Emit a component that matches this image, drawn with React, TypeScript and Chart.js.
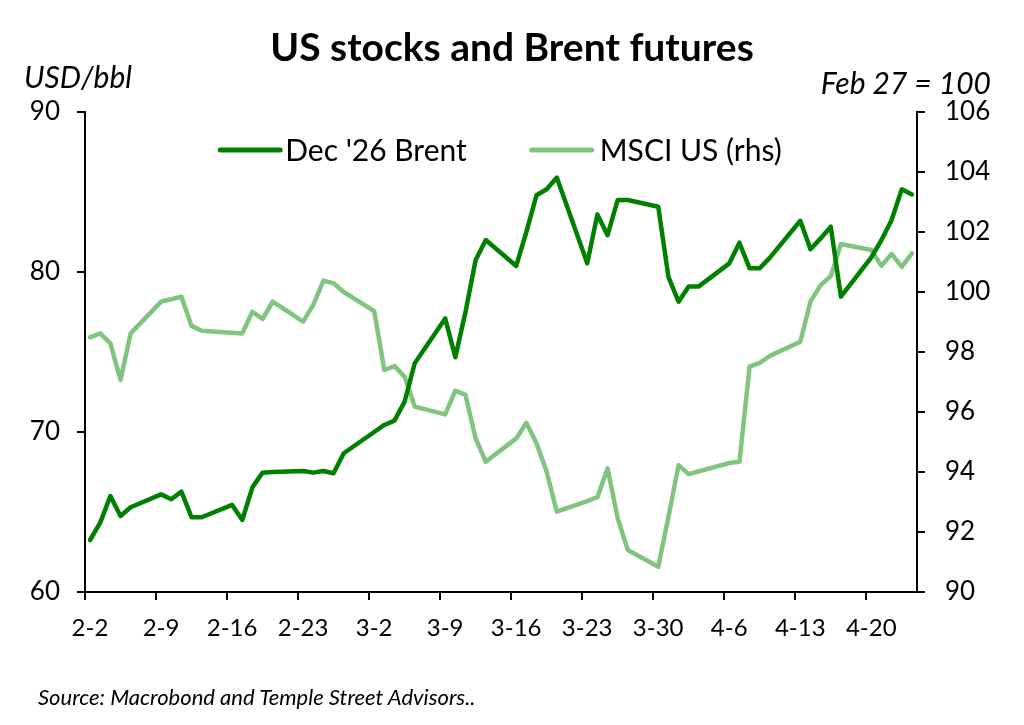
import React, { useEffect, useRef } from "react";
import { Chart, registerables } from "chart.js";

Chart.register(...registerables);

// Trading days (month-day), Feb 2 to Apr 24
const dates = [
  "2-2", "2-3", "2-4", "2-5", "2-6", "2-9", "2-10", "2-11", "2-12", "2-13",
  "2-16", "2-17", "2-18", "2-19", "2-20", "2-23", "2-24", "2-25", "2-26", "2-27",
  "3-2", "3-3", "3-4", "3-5", "3-6", "3-9", "3-10", "3-11", "3-12", "3-13",
  "3-16", "3-17", "3-18", "3-19", "3-20", "3-23", "3-24", "3-25", "3-26", "3-27",
  "3-30", "3-31", "4-1", "4-2", "4-3", "4-6", "4-7", "4-8", "4-9", "4-10",
  "4-13", "4-14", "4-15", "4-16", "4-17", "4-20", "4-21", "4-22", "4-23", "4-24",
];

// Dec '26 Brent, USD/bbl (left axis)
const brent = [
  63.25, 64.33, 66.0, 64.75, 65.3, 66.1, 65.8, 66.27, 64.67, 64.67,
  65.44, 64.5, 66.54, 67.46, 67.5, 67.56, 67.46, 67.56, 67.42, 68.67,
  70.0, 70.44, 70.71, 71.9, 74.3, 77.1, 74.67, 77.5, 80.75, 82.0,
  80.38, 82.5, 84.8, 85.17, 85.9, 80.54, 83.6, 82.3, 84.5, 84.5,
  84.08, 79.7, 78.14, 79.1, 79.1, 80.54, 81.83, 80.23, 80.23, 80.9,
  83.2, 81.42, 82.1, 82.83, 78.46, 80.92, 82.0, 83.25, 85.17, 84.85,
];

// MSCI US, Feb 27 = 100 (right axis)
const msci = [
  98.49, 98.62, 98.29, 97.07, 98.62, 99.68, 99.76, 99.84, 98.87, 98.71,
  null, 98.62, 99.34, 99.1, 99.68, 99.01, 99.57, 100.38, 100.29, 100.0,
  99.36, 97.4, 97.53, 97.18, 96.18, 95.92, 96.71, 96.57, 95.12, 94.34,
  95.12, 95.64, 94.96, 94.01, 92.68, 93.03, 93.16, 94.12, 92.46, 91.4,
  90.84, 92.5, 94.23, 93.93, null, 94.3, 94.34, 97.51, 97.64, 97.87,
  98.34, 99.68, 100.23, 100.53, 101.6, 101.4, 100.87, 101.27, 100.84, 101.29,
];

const tickLabels = ["2-2", "2-9", "2-16", "2-23", "3-2", "3-9", "3-16", "3-23", "3-30", "4-6", "4-13", "4-20"];
const lastDate = "4-24";

const seriesNames = ["Dec '26 Brent", "MSCI US (rhs)"];
const seriesColors = ["#008000", "#7fc47f"];

const FONT = "Lato, 'Open Sans', sans-serif";

function dayOf(md: string): number {
  const [m, d] = md.split("-").map(Number);
  if (m === 2) return d - 2;
  if (m === 3) return 26 + d;
  return 57 + d;
}

const insideLegend = {
  id: "insideLegend",
  afterDraw(chart: any) {
    const { ctx, chartArea } = chart;
    ctx.save();
    ctx.font = `30px ${FONT}`;
    ctx.textBaseline = "middle";
    const lineW = 60;
    const gapLT = [5, 8];
    const gapItems = 65;
    const widths = seriesNames.map((n) => ctx.measureText(n).width);
    const total = lineW + gapLT[0] + widths[0] + gapItems + lineW + gapLT[1] + widths[1];
    let x = (chartArea.left + chartArea.right) / 2 - total / 2;
    const y = 150;
    seriesNames.forEach((name, i) => {
      ctx.strokeStyle = seriesColors[i];
      ctx.lineWidth = 5;
      ctx.lineCap = "round";
      ctx.beginPath();
      ctx.moveTo(x, y);
      ctx.lineTo(x + lineW, y);
      ctx.stroke();
      x += lineW + gapLT[i];
      ctx.fillStyle = "#000";
      ctx.textAlign = "left";
      ctx.fillText(name, x, y + 1);
      x += widths[i] + gapItems;
    });
    ctx.restore();
  },
};

export default function App() {
  const canvasRef = useRef<HTMLCanvasElement | null>(null);

  useEffect(() => {
    if (!canvasRef.current) return;
    const xs = dates.map(dayOf);
    const chart = new Chart(canvasRef.current, {
      type: "line",
      data: {
        datasets: [
          {
            label: seriesNames[0],
            data: xs.map((x, i) => ({ x, y: brent[i] })),
            borderColor: seriesColors[0],
            backgroundColor: seriesColors[0],
            borderWidth: 4.5,
            pointRadius: 0,
            tension: 0,
            yAxisID: "y",
            borderJoinStyle: "round",
            borderCapStyle: "round",
            spanGaps: true,
            order: 1,
          },
          {
            label: seriesNames[1],
            data: xs.map((x, i) => ({ x, y: msci[i] })),
            borderColor: seriesColors[1],
            backgroundColor: seriesColors[1],
            borderWidth: 4.5,
            pointRadius: 0,
            tension: 0,
            yAxisID: "y1",
            borderJoinStyle: "round",
            borderCapStyle: "round",
            spanGaps: true,
            order: 2,
          },
        ],
      },
      options: {
        animation: false,
        responsive: false,
        maintainAspectRatio: false,
        layout: { padding: { top: 112, left: 0, right: 0, bottom: 0 } },
        plugins: {
          legend: { display: false },
          tooltip: { enabled: false },
          title: { display: false },
        },
        scales: {
          x: {
            type: "linear",
            min: dayOf(tickLabels[0]) - 0.5,
            max: dayOf(lastDate) + 0.5,
            afterBuildTicks: (axis: any) => {
              axis.ticks = tickLabels.map((l) => ({ value: dayOf(l) - 0.5 }));
            },
            afterFit: (axis: any) => {
              axis.height = 133;
            },
            ticks: {
              callback: (_v: any, i: number) => tickLabels[i],
              font: { family: FONT, size: 24 },
              color: "#000",
              padding: 14,
              labelOffset: 5,
              maxRotation: 0,
              autoSkip: false,
            },
            grid: {
              drawOnChartArea: false,
              drawTicks: true,
              tickLength: 8,
              color: "#000",
              lineWidth: 2,
            },
            border: { display: true, color: "#000", width: 2 },
          },
          y: {
            position: "left",
            min: 60,
            max: 90,
            ticks: {
              stepSize: 10,
              font: { family: FONT, size: 26 },
              color: "#000",
              padding: 17,
            },
            afterFit: (axis: any) => {
              axis.width = 85;
            },
            grid: {
              drawOnChartArea: false,
              tickLength: 8,
              color: "#000",
              lineWidth: 2,
            },
            border: { display: true, color: "#000", width: 2 },
          },
          y1: {
            position: "right",
            min: 90,
            max: 106,
            ticks: {
              stepSize: 2,
              font: { family: FONT, size: 26 },
              color: "#000",
              padding: 20,
            },
            afterFit: (axis: any) => {
              axis.width = 107;
            },
            grid: {
              drawOnChartArea: false,
              tickLength: 8,
              color: "#000",
              lineWidth: 2,
            },
            border: { display: true, color: "#000", width: 2 },
          },
        },
      },
      plugins: [insideLegend],
    } as any);
    return () => chart.destroy();
  }, []);

  const textBase: React.CSSProperties = {
    position: "absolute",
    fontFamily: FONT,
    color: "#000",
    whiteSpace: "nowrap",
    lineHeight: 1,
  };

  return (
    <div
      style={{
        position: "fixed",
        left: 0,
        top: 0,
        width: 1024,
        height: 725,
        background: "#fff",
        overflow: "hidden",
      }}
    >
      <canvas ref={canvasRef} width={1024} height={725} style={{ position: "absolute", left: 0, top: 0 }} />
      <div style={{ ...textBase, left: 0, width: 1024, top: 27, textAlign: "center", fontSize: 39, fontWeight: 700 }}>
        US stocks and Brent futures
      </div>
      <div style={{ ...textBase, left: 24, top: 61, fontSize: 30, fontStyle: "italic" }}>USD/bbl</div>
      <div style={{ ...textBase, right: 33, top: 67, fontSize: 30, fontStyle: "italic" }}>Feb 27 = 100</div>
      <div style={{ ...textBase, left: 38, top: 686, fontSize: 22, fontStyle: "italic" }}>
        Source: Macrobond and Temple Street Advisors..
      </div>
    </div>
  );
}
